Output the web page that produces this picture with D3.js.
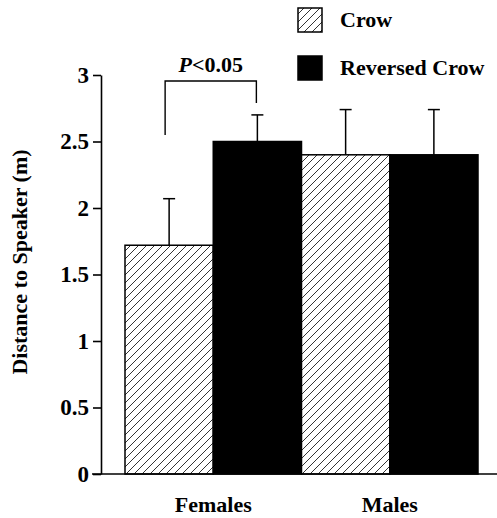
<!DOCTYPE html>
<html>
<head>
<meta charset="utf-8">
<script src="https://cdn.jsdelivr.net/npm/d3@7"></script>
<style>
  body { margin: 0; background: #fff; }
</style>
</head>
<body>
<script>
var groups = ["Females", "Males"];
var series = ["Crow", "Reversed Crow"];
var means = [[1.72, 2.50], [2.40, 2.40]];
var errors = [[0.35, 0.20], [0.34, 0.34]];
var yTicks = [0, 0.5, 1, 1.5, 2, 2.5, 3];
var yTickLabels = ["0", "0.5", "1", "1.5", "2", "2.5", "3"];

var width = 497, height = 518;
var serif = "'Liberation Serif', 'Times New Roman', serif";

var svg = d3.select("body")
    .append("svg")
    .attr("width", width)
    .attr("height", height)
    .style("font-family", serif)
    .style("font-weight", "bold");

// hatch pattern for Crow
var defs = svg.append("defs");
var pat = defs.append("pattern")
    .attr("id", "hatch")
    .attr("patternUnits", "userSpaceOnUse")
    .attr("width", 8)
    .attr("height", 8);
pat.append("rect").attr("width", 8).attr("height", 8).attr("fill", "#fff");
pat.append("path")
    .attr("d", "M-2,2 L2,-2 M0,8 L8,0 M6,10 L10,6")
    .attr("stroke", "#000")
    .attr("stroke-width", 0.8);

var y = d3.scaleLinear().domain([0, 3]).range([474, 75]);
var x0 = d3.scaleBand().domain(groups).range([125, 478]).padding(0);
var x1 = d3.scaleBand().domain(series).range([0, x0.bandwidth()]).padding(0);

function fillFor(s) { return s === "Crow" ? "url(#hatch)" : "#000"; }

// bars
var g = svg.append("g");
groups.forEach(function (grp, i) {
    series.forEach(function (s, j) {
        var bx = x0(grp) + x1(s);
        var cx = bx + x1.bandwidth() / 2;
        var top = y(means[i][j] + errors[i][j]);
        // error bar
        g.append("line")
            .attr("x1", cx).attr("x2", cx)
            .attr("y1", y(means[i][j])).attr("y2", top)
            .attr("stroke", "#000").attr("stroke-width", 1.5);
        g.append("line")
            .attr("x1", cx - 6).attr("x2", cx + 6)
            .attr("y1", top).attr("y2", top)
            .attr("stroke", "#000").attr("stroke-width", 1.5);
        g.append("rect")
            .attr("x", bx)
            .attr("y", y(means[i][j]))
            .attr("width", x1.bandwidth())
            .attr("height", y(0) - y(means[i][j]))
            .attr("fill", fillFor(s))
            .attr("stroke", "#000")
            .attr("stroke-width", 1.5);
    });
});

// y axis
var yAxis = d3.axisLeft(y)
    .tickValues(yTicks)
    .tickFormat(function (d, i) { return yTickLabels[i]; })
    .tickSize(8)
    .tickSizeOuter(0)
    .tickPadding(4);
var ya = svg.append("g")
    .attr("transform", "translate(101,0)")
    .call(yAxis)
    .attr("font-family", null)
    .attr("font-size", null);
ya.select(".domain").attr("stroke-width", 1.6);
ya.selectAll(".tick line").attr("stroke-width", 1.6);
ya.selectAll("text")
    .style("font-family", serif)
    .style("font-size", "23px")
    .attr("fill", "#000");

// x axis baseline
svg.append("line")
    .attr("x1", 92).attr("x2", 497)
    .attr("y1", y(0)).attr("y2", y(0))
    .attr("stroke", "#000").attr("stroke-width", 1.6);

// category labels
svg.selectAll(".cat")
    .data(groups)
    .enter()
    .append("text")
    .attr("x", function (d) { return x0(d) + x0.bandwidth() / 2; })
    .attr("y", 512)
    .attr("text-anchor", "middle")
    .style("font-size", "22px")
    .text(function (d) { return d; });

// y label
svg.append("text")
    .attr("transform", "translate(27,262) rotate(-90)")
    .attr("text-anchor", "middle")
    .style("font-size", "22px")
    .text("Distance to Speaker (m)");

// significance bracket
var bl = x0("Females") + x1("Crow") + x1.bandwidth() / 2 - 4;
var br = x0("Females") + x1("Reversed Crow") + x1.bandwidth() / 2 - 1;
svg.append("path")
    .attr("d", "M" + bl + "," + 135 + " V81 H" + br + " V103")
    .attr("fill", "none")
    .attr("stroke", "#000")
    .attr("stroke-width", 1.4);
var sig = svg.append("text")
    .attr("x", (bl + br) / 2)
    .attr("y", 72)
    .attr("text-anchor", "middle")
    .style("font-size", "22px");
sig.append("tspan").style("font-style", "italic").text("P");
sig.append("tspan").text("<0.05");

// legend
var legend = svg.append("g");
series.forEach(function (s, j) {
    var ly = 8 + j * 48;
    legend.append("rect")
        .attr("x", 298).attr("y", ly)
        .attr("width", 24).attr("height", 24)
        .attr("fill", fillFor(s))
        .attr("stroke", "#000").attr("stroke-width", 1.5);
    legend.append("text")
        .attr("x", 340).attr("y", ly + 19)
        .style("font-size", "22px")
        .text(s);
});
</script>
</body>
</html>
